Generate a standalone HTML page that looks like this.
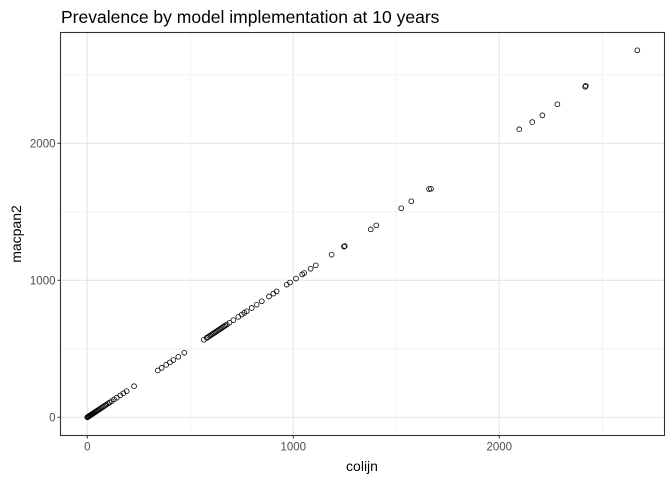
<!DOCTYPE html>
<html><head><meta charset="utf-8"><style>
body{margin:0;background:#fff;font-family:"Liberation Sans",sans-serif}
svg text{font-family:"Liberation Sans",sans-serif}
</style></head><body>
<svg id="c" width="672" height="480" xmlns="http://www.w3.org/2000/svg">
<text x="61" y="23" font-size="17.5" fill="#000">Prevalence by model implementation at 10 years</text>
<text x="362" y="471" font-size="14" text-anchor="middle" fill="#000">colijn</text>
<text transform="translate(21,234) rotate(-90)" font-size="14" text-anchor="middle" fill="#000">macpan2</text>
</svg>
<script>
const xTicks=[0,1000,2000];
const yTicks=[0,1000,2000];
const colijn=[0,3,6,9,12,15,18,22,26,30,34,38,42,47,52,57,62,68,74,80,86,92,100,108,118,130,143,160,175,191,227,
342,361,383,401,418,442,471,
566,580,585,592,598,604,610,616,622,628,634,640,646,652,658,664,670,677,690,709,733,750,762,774,798,822,847,882,903,919,968,984,1013,1043,1053,1084,1109,1186,1246,1250,1376,1403,1524,1573,1659,1668,2097,2160,2209,2282,2417,2420,2670];
const macpan2=[0,3,6,9,12,15,18,22,26,30,34,38,42,47,52,57,62,68,74,80,86,92,100,108,118,130,143,160,175,191,227,
342,361,383,401,418,442,471,
566,580,585,592,598,604,610,616,622,628,634,640,646,652,658,664,670,677,690,709,733,750,762,774,798,822,847,882,903,919,968,984,1013,1043,1053,1084,1109,1187,1246,1250,1372,1401,1526,1577,1666,1668,2102,2155,2204,2285,2413,2420,2679];
const L=60.5,R=664.5,T=32.5,B=435.5;
const sx=v=>87.3+v*0.206, sy=v=>417.3-v*0.137;
const svg=document.getElementById('c');
const NS='http://www.w3.org/2000/svg';
function mk(t,a){const e=document.createElementNS(NS,t);for(const k in a)e.setAttribute(k,a[k]);svg.appendChild(e);return e;}
const minorX=[-500,500,1500,2500], minorY=[500,1500,2500];
minorX.forEach(v=>{if(sx(v)>L&&sx(v)<R){const g=mk('line',{x1:sx(v),x2:sx(v),y1:T,y2:B,stroke:'#ececec','stroke-width':0.6});

}});
minorY.forEach(v=>{if(sy(v)>T){const g=mk('line',{x1:L,x2:R,y1:sy(v),y2:sy(v),stroke:'#ececec','stroke-width':0.6});

}});
xTicks.forEach(v=>{const g=mk('line',{x1:sx(v),x2:sx(v),y1:T,y2:B,stroke:'#e6e6e6','stroke-width':1.1});


const tk=mk('line',{x1:sx(v),x2:sx(v),y1:B,y2:B+3,stroke:'#333'});


const t=mk('text',{x:sx(v),y:B+15,'font-size':11.5,'text-anchor':'middle',fill:'#4d4d4d'});t.textContent=v;

});
yTicks.forEach(v=>{const g=mk('line',{x1:L,x2:R,y1:sy(v),y2:sy(v),stroke:'#e6e6e6','stroke-width':1.1});


const tk=mk('line',{x1:L-3,x2:L,y1:sy(v),y2:sy(v),stroke:'#333'});


const t=mk('text',{x:L-5,y:sy(v)+4,'font-size':11.5,'text-anchor':'end',fill:'#4d4d4d'});t.textContent=v;

});
colijn.forEach((v,i)=>{const p=mk('circle',{cx:sx(v),cy:sy(macpan2[i]),r:2.4,fill:'none',stroke:'#000','stroke-width':0.8});

});
const f=mk('rect',{x:L,y:T,width:R-L,height:B-T,fill:'none',stroke:'#333','stroke-width':1.1});


</script>
</body></html>
